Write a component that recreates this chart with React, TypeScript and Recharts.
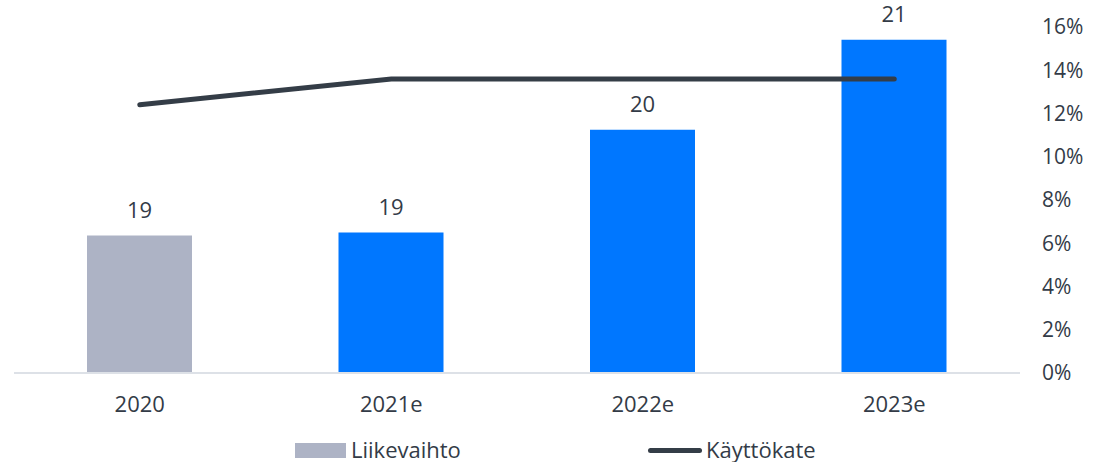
import React from "react"
import { Bar, Cell, ComposedChart, LabelList, Legend, Line, XAxis, YAxis } from "recharts"

const years = ["2020", "2021e", "2022e", "2023e"]
const liikevaihto = [18.89, 18.92, 19.96, 20.87]
const kayttokate = [12.4, 13.6, 13.6, 13.6]
const barColors = ["#adb3c5", "#0077ff", "#0077ff", "#0077ff"]
const pctTicks = [0, 2, 4, 6, 8, 10, 12, 14, 16]

const data = years.map((year, i) => ({
  year,
  liikevaihto: liikevaihto[i],
  kayttokate: kayttokate[i],
}))

const textColor = "#333b47"
const font = "'Open Sans', sans-serif"

const ChartLegend = () => (
  <div style={{ position: "relative", width: 1097, height: 39, fontFamily: font, fontSize: 22, color: textColor }}>
    <div style={{ position: "absolute", left: 295, top: 20, width: 51, height: 15, background: "#adb3c5" }} />
    <span style={{ position: "absolute", left: 351, top: 11, lineHeight: "30px" }}>Liikevaihto</span>
    <div style={{ position: "absolute", left: 648, top: 25, width: 54, height: 5, borderRadius: 3, background: "#343d47" }} />
    <span style={{ position: "absolute", left: 706, top: 11, lineHeight: "30px" }}>Käyttökate</span>
  </div>
)

const App = () => {
  return (
    <div style={{ position: "absolute", left: 0, top: 0, fontFamily: font }}>
      <ComposedChart width={1097} height={462} data={data} margin={{ top: 27, right: 0, bottom: 0, left: 14 }}>
        <XAxis
          dataKey="year"
          axisLine={{ stroke: "#dde1e7", strokeWidth: 2 }}
          tickLine={false}
          tick={{ fill: textColor, fontSize: 22, fontFamily: font }}
          tickMargin={17}
          height={50}
        />
        <YAxis yAxisId="left" hide domain={[17.5, 21]} allowDataOverflow />
        <YAxis
          yAxisId="right"
          orientation="right"
          width={77}
          domain={[0, 16]}
          ticks={pctTicks}
          axisLine={false}
          tickLine={false}
          tickMargin={16}
          tick={{ fill: textColor, fontSize: 21, fontFamily: font, textAnchor: "start" }}
          tickFormatter={(v: number) => `${v}%`}
        />
        <Legend verticalAlign="bottom" height={39} content={() => <ChartLegend />} wrapperStyle={{ left: 0, bottom: 0 }} />
        <Bar yAxisId="left" dataKey="liikevaihto" barSize={105} isAnimationActive={false}>
          {data.map((d, i) => (
            <Cell key={d.year} fill={barColors[i]} />
          ))}
          <LabelList
            dataKey="liikevaihto"
            position="top"
            offset={18}
            formatter={(v: number) => Math.round(v)}
            style={{ fill: textColor, fontSize: 22, fontFamily: font }}
          />
        </Bar>
        <Line
          yAxisId="right"
          dataKey="kayttokate"
          stroke="#343d47"
          strokeWidth={5}
          strokeLinecap="round"
          dot={false}
          activeDot={false}
          isAnimationActive={false}
        />
      </ComposedChart>
    </div>
  )
}

export default App
